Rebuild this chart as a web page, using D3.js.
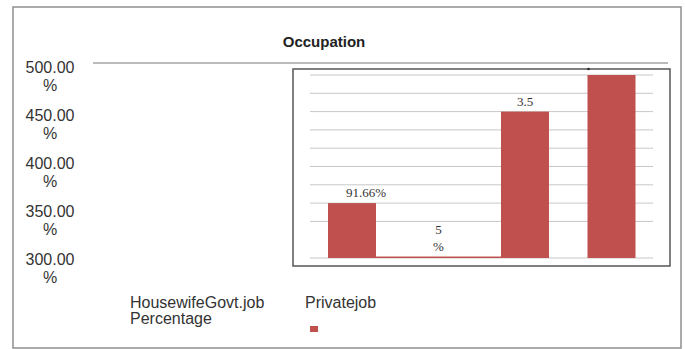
<!DOCTYPE html>
<html>
<head>
<meta charset="utf-8">
<script src="https://cdn.jsdelivr.net/npm/d3@7"></script>
<style>
  body { margin: 0; background: #fff; }
  svg { display: block; }
</style>
</head>
<body>
<div id="chart"></div>
<script>
// outer axis (percent ticks) and categories
var yTicks = [300, 350, 400, 450, 500];
var categories = ["HousewifeGovt.job", "Privatejob"];
var categorySub = ["Percentage", ""];
var legendLabel = "Privatejob";

// inner bar picture
var barKeys = ["a", "b", "c", "d"];
var barValues = [30, 0.8, 80, 100];
var barLabels = [["91.66%"], ["5", "%"], ["3.5"], []];
var gridTicks = [0, 20, 30, 40, 50, 60, 70, 80, 90, 100];

var W = 685, H = 349;
var barColor = "#c0504d";

var svg = d3.select("#chart").append("svg")
  .attr("width", W)
  .attr("height", H);

// outer frame
svg.append("rect")
  .attr("x", 13).attr("y", 7)
  .attr("width", 668).attr("height", 341)
  .attr("fill", "none")
  .attr("stroke", "#8f8f8f")
  .attr("stroke-width", 1.5);

svg.append("text")
  .attr("x", 324).attr("y", 47)
  .attr("text-anchor", "middle")
  .attr("font-family", "Liberation Sans, Arial, sans-serif")
  .attr("font-weight", "bold")
  .attr("font-size", 15)
  .attr("fill", "#222")
  .text("Occupation");

// outer y axis
var y = d3.scaleLinear().domain([300, 500]).range([255, 63]);

svg.append("line")
  .attr("x1", 93).attr("x2", 668)
  .attr("y1", y(500)).attr("y2", y(500))
  .attr("stroke", "#777").attr("stroke-width", 1);

var yl = svg.append("g").selectAll("g")
  .data(yTicks)
  .join("g")
  .attr("transform", function (d) { return "translate(50," + y(d) + ")"; })
  .attr("font-family", "Liberation Sans, Arial, sans-serif")
  .attr("font-size", 16)
  .attr("fill", "#333")
  .attr("text-anchor", "middle");

yl.append("text").attr("y", 10).text(function (d) { return d3.format(".2f")(d); });
yl.append("text").attr("y", 28).text("%");

// outer categories
var x = d3.scaleBand().domain(categories).range([130, 480]).padding(0);

var cat = svg.append("g").selectAll("g")
  .data(categories)
  .join("g")
  .attr("transform", function (d) { return "translate(" + x(d) + ",308)"; })
  .attr("font-family", "Liberation Sans, Arial, sans-serif")
  .attr("font-size", 16)
  .attr("fill", "#333");

cat.append("text").text(function (d) { return d; });
cat.append("text").attr("y", 16).text(function (d, i) { return categorySub[i]; });

svg.append("rect")
  .attr("x", x(legendLabel) + 5).attr("y", 326)
  .attr("width", 8).attr("height", 6)
  .attr("fill", barColor);

// inner picture box
var box = svg.append("g");
box.append("rect")
  .attr("x", 293).attr("y", 69)
  .attr("width", 377).attr("height", 197)
  .attr("fill", "#fff")
  .attr("stroke", "#555")
  .attr("stroke-width", 1.5);

var bx = d3.scaleBand().domain(barKeys).range([308.75, 654.75]).paddingInner(0.445).paddingOuter(0.2225);
var by = d3.scaleLinear().domain([0, 100]).range([258, 75]);

box.selectAll(".grid")
  .data(gridTicks)
  .join("line")
  .attr("class", "grid")
  .attr("x1", 310).attr("x2", 653)
  .attr("y1", function (d) { return by(d); })
  .attr("y2", function (d) { return by(d); })
  .attr("stroke", "#c8c8c8")
  .attr("stroke-width", 1);

box.selectAll(".bar")
  .data(barValues)
  .join("rect")
  .attr("class", "bar")
  .attr("x", function (d, i) {
    // the near-zero bar is stretched between its neighbours
    return i === 1 ? bx(barKeys[0]) + bx.bandwidth() : bx(barKeys[i]);
  })
  .attr("width", function (d, i) {
    return i === 1 ? bx(barKeys[2]) - bx(barKeys[0]) - bx.bandwidth() : bx.bandwidth();
  })
  .attr("y", function (d) { return by(d); })
  .attr("height", function (d) { return by(0) - by(d); })
  .attr("fill", barColor);

var lab = box.selectAll(".lab")
  .data(barLabels)
  .join("g")
  .attr("class", "lab")
  .attr("font-family", "Liberation Serif, Times New Roman, serif")
  .attr("font-size", 13)
  .attr("fill", "#333")
  .attr("text-anchor", "middle");

lab.each(function (lines, i) {
  var g = d3.select(this);
  var cx = bx(barKeys[i]) + bx.bandwidth() / 2;
  var top = i === 1 ? by(0) - 24 : by(barValues[i]) - 6;
  if (i === 0) cx += 14;
  lines.forEach(function (t, k) {
    g.append("text").attr("x", cx).attr("y", top + k * 17).text(t);
  });
});

// small mark on the box edge
box.append("circle")
  .attr("cx", bx(barKeys[3]) + 1).attr("cy", 69)
  .attr("r", 1.2).attr("fill", "#222");
</script>
</body>
</html>
